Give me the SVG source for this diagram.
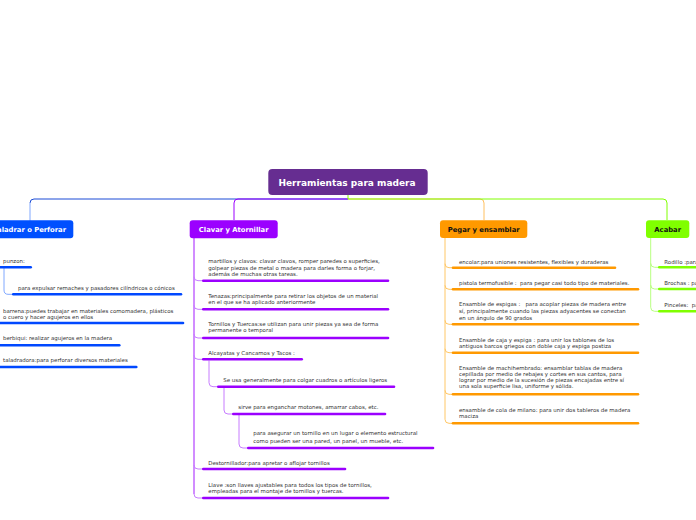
<svg xmlns="http://www.w3.org/2000/svg" width="696" height="520" viewBox="0 0 696 520">
<style>
.t{font-family:"DejaVu Sans",Verdana,sans-serif;font-size:5.45px;fill:#333}
.n{font-family:"DejaVu Sans",Verdana,sans-serif;font-weight:bold;font-size:6.8px;fill:#fff;text-anchor:middle}
.c{fill:none;stroke-width:1}
.bb{stroke:#0048ff;stroke-width:2.6;stroke-linecap:round}
.bp{stroke:#9b00ff;stroke-width:2.6;stroke-linecap:round}
.bo{stroke:#ff9900;stroke-width:2.6;stroke-linecap:round}
.bg{stroke:#80ff00;stroke-width:2.6;stroke-linecap:round}
</style>
<rect width="696" height="520" fill="#fff"/>
<g id="connectors">
<path class="c" stroke="#1a4bd6" d="M348,199 H34 Q30,199 30,203"/>
<path class="c" stroke="#80a8ff" d="M30,203 V221"/>
<path class="c" stroke="#9b00ff" d="M348,199 H238 Q234,199 234,203 V220"/>
<path class="c" stroke="#ffc060" d="M348,199 H480 Q484,199 484,203 V220"/>
<path class="c" stroke="#80ff00" d="M348,195 V199 H663 Q667,199 667,203 V220"/>
<path class="c" stroke="#80a8ff" d="M4,268 V290 Q4,294.3 8,294.3 H13"/>
<path class="c" stroke="#a31aff" d="M194,238 V494"/>
<path class="c" stroke="#c77dff" d="M194,276.7 Q194,280.7 198,280.7 H203 M194,305.3 Q194,309.3 198,309.3 H203 M194,334 Q194,338 198,338 H203 M194,355.3 Q194,359.3 198,359.3 H203 M194,465 Q194,469 198,469 H203 M194,494 Q194,498 198,498 H203"/>
<path class="c" stroke="#c77dff" d="M209,360.5 V382.7 Q209,386.7 213,386.7 H218 M224,388 V410 Q224,414 228,414 H233 M239,415 V444 Q239,448 243,448 H248"/>
<path class="c" stroke="#ffc766" d="M445,238 V419.3 Q445,423.3 449,423.3 H453 M445,263.7 Q445,267.7 449,267.7 H453 M445,285.3 Q445,289.3 449,289.3 H453 M445,320.3 Q445,324.3 449,324.3 H453 M445,348.7 Q445,352.7 449,352.7 H453 M445,390.3 Q445,394.3 449,394.3 H453"/>
<path class="c" stroke="#b8ff80" d="M650.7,238 V307.3 Q650.7,311.3 654.7,311.3 H659 M650.7,263.3 Q650.7,267.3 654.7,267.3 H659 M650.7,285 Q650.7,289 654.7,289 H659"/>
</g>
<g id="root">
<rect x="268.3" y="169" width="159.4" height="26" rx="4" fill="#662d91"/>
<text class="n" x="347" y="186.2" style="font-size:9px">Herramientas para madera</text>
</g>
<g id="taladrar">
<rect x="-14" y="220.3" width="87.3" height="18" rx="3" fill="#0050ff"/>
<text class="n" x="29.7" y="231.8">Taladrar o Perforar</text>
</g>
<g id="clavar">
<rect x="189.7" y="220.3" width="88" height="18" rx="3" fill="#9b00ff"/>
<text class="n" x="233.7" y="231.8">Clavar y Atornillar</text>
</g>
<g id="pegar">
<rect x="440" y="220.3" width="87.3" height="17.7" rx="3" fill="#ff9900"/>
<text class="n" x="483.7" y="231.8" style="fill:#111">Pegar y ensamblar</text>
</g>
<g id="acabar">
<rect x="646" y="220.3" width="43.3" height="17.7" rx="3" fill="#80ff00"/>
<text class="n" x="667.7" y="231.8" style="fill:#111">Acabar</text>
</g>
<g id="blue-items">
<text class="t" x="3" y="263">punzon:</text><line class="bb" x1="0" y1="267.3" x2="30.7" y2="267.3"/>
<text class="t" x="18" y="290">para expulsar remaches y pasadores cilíndricos o cónicos</text><line class="bb" x1="13.3" y1="294.3" x2="181" y2="294.3"/>
<text class="t" x="3" y="312.5">barrena:puedes trabajar en materiales comomadera, plásticos</text>
<text class="t" x="3" y="318.5">o cuero y hacer agujeros en ellos</text><line class="bb" x1="0" y1="323" x2="183" y2="323"/>
<text class="t" x="3" y="340">berbiqui: realizar agujeros en la madera</text><line class="bb" x1="0" y1="345.3" x2="119.3" y2="345.3"/>
<text class="t" x="3" y="362">taladradora:para perforar diversos materiales</text><line class="bb" x1="0" y1="367" x2="136.3" y2="367"/>
</g>
<g id="purple-items">
<text class="t" x="208.3" y="263">martillos y clavos: clavar clavos, romper paredes o superficies,</text>
<text class="t" x="208.3" y="269.5">golpear piezas de metal o madera para darles forma o forjar,</text>
<text class="t" x="208.3" y="276">además de muchas otras tareas.</text><line class="bp" x1="203.3" y1="280.7" x2="388" y2="280.7"/>
<text class="t" x="208.3" y="297.5">Tenazas:principalmente para retirar los objetos de un material</text>
<text class="t" x="208.3" y="304">en el que se ha aplicado anteriormente</text><line class="bp" x1="203.3" y1="309.3" x2="388" y2="309.3"/>
<text class="t" x="208.3" y="325.5">Tornillos y Tuercas:se utilizan para unir piezas ya sea de forma</text>
<text class="t" x="208.3" y="332">permanente o temporal</text><line class="bp" x1="203.3" y1="338" x2="388" y2="338"/>
<text class="t" x="208.3" y="354.5">Alcayatas y Cancamos y Tacos :</text><line class="bp" x1="203.3" y1="359.3" x2="301.7" y2="359.3"/>
<text class="t" x="223.3" y="382">Se usa generalmente para colgar cuadros o artículos ligeros</text><line class="bp" x1="218.3" y1="386.7" x2="394" y2="386.7"/>
<text class="t" x="238.3" y="408.7">sirve para enganchar motones, amarrar cabos, etc.</text><line class="bp" x1="233.3" y1="414" x2="385" y2="414"/>
<text class="t" x="253.3" y="435.3">para asegurar un tornillo en un lugar o elemento estructural</text>
<text class="t" x="253.3" y="443">como pueden ser una pared, un panel, un mueble, etc.</text><line class="bp" x1="248.3" y1="448" x2="433" y2="448"/>
<text class="t" x="208.3" y="464.7">Destornillador:para apretar o aflojar tornillos</text><line class="bp" x1="203.3" y1="469" x2="345" y2="469"/>
<text class="t" x="208.3" y="487">Llave :son llaves ajustables para todos los tipos de tornillos,</text>
<text class="t" x="208.3" y="493">empleadas para el montaje de tornillos y tuercas.</text><line class="bp" x1="203.3" y1="498" x2="388" y2="498"/>
</g>
<g id="orange-items">
<text class="t" x="459" y="263.7">encolar:para uniones resistentes, flexibles y duraderas</text><line class="bo" x1="453" y1="267.7" x2="615" y2="267.7"/>
<text class="t" x="459" y="284.7" xml:space="preserve">pistola termofusible :  para pegar casi todo tipo de materiales.</text><line class="bo" x1="453" y1="289.3" x2="638" y2="289.3"/>
<text class="t" x="459" y="306.3" xml:space="preserve">Ensamble de espigas :   para acoplar piezas de madera entre</text>
<text class="t" x="459" y="312.7">sí, principalmente cuando las piezas adyacentes se conectan</text>
<text class="t" x="459" y="320.3">en un ángulo de 90 grados</text><line class="bo" x1="453" y1="324.3" x2="638" y2="324.3"/>
<text class="t" x="459" y="342">Ensamble de caja y espiga : para unir los tablones de los</text>
<text class="t" x="459" y="347.7">antiguos barcos griegos con doble caja y espiga postiza</text><line class="bo" x1="453" y1="352.7" x2="638" y2="352.7"/>
<text class="t" x="459" y="369.7">Ensamble de machihembrado: ensamblar tablas de madera</text>
<text class="t" x="459" y="375.7">cepillada por medio de rebajes y cortes en sus cantos, para</text>
<text class="t" x="459" y="381.7">lograr por medio de la sucesión de piezas encajadas entre sí</text>
<text class="t" x="459" y="388.3">una sola superficie lisa, uniforme y sólida.</text><line class="bo" x1="453" y1="394.3" x2="638" y2="394.3"/>
<text class="t" x="459" y="412">ensamble de cola de milano: para unir dos tableros de madera</text>
<text class="t" x="459" y="418">maciza</text><line class="bo" x1="453" y1="423.3" x2="638" y2="423.3"/>
</g>
<g id="green-items">
<text class="t" x="664.3" y="263.7">Rodillo :para</text><line class="bg" x1="659.3" y1="267.3" x2="700" y2="267.3"/>
<text class="t" x="664.3" y="284.7">Brochas : para</text><line class="bg" x1="659.3" y1="289" x2="700" y2="289"/>
<text class="t" x="664.3" y="307" xml:space="preserve">Pinceles:  para</text><line class="bg" x1="659.3" y1="311.3" x2="700" y2="311.3"/>
</g>
</svg>
